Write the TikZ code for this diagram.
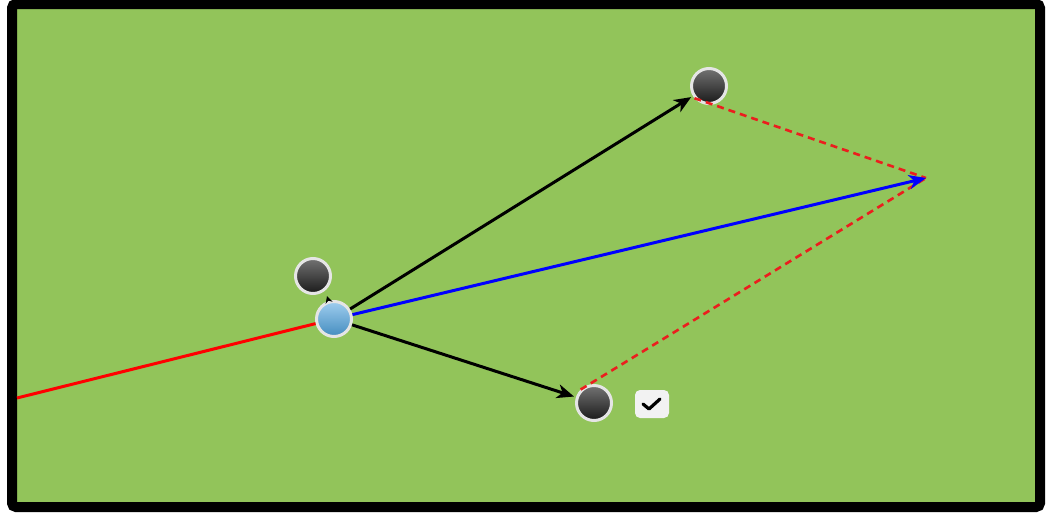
\documentclass[tikz,border=0pt]{standalone}
\usetikzlibrary{arrows.meta,calc}
\definecolor{field}{RGB}{146,196,90}
\definecolor{ballblue}{RGB}{80,165,225}
\definecolor{dashred}{RGB}{235,30,30}
\begin{document}
\begin{tikzpicture}[x=1pt,y=-1pt,
  darkball/.style={circle,minimum size=35pt,inner sep=0pt,draw=white!90!black,line width=3pt,
    top color=black!55,bottom color=black!90},
  blueball/.style={circle,minimum size=35pt,inner sep=0pt,draw=white!90!black,line width=3pt,
    top color=ballblue!55!white,bottom color=ballblue!85!black},
  vec/.style={line width=3pt,-{Stealth[length=17pt,width=14pt,inset=5pt]}},
  dashvec/.style={dashred,line width=2.6pt,dash pattern=on 7pt off 5pt},
  chk/.style={rounded corners=5pt,fill=white!95!black,minimum width=34pt,minimum height=28pt,inner sep=0pt}]
\useasboundingbox (0,0) rectangle (1048,514);
\draw[line width=10pt,fill=field,rounded corners=4pt] (12,4) rectangle (1040,507);
\coordinate (left) at (17,398);
\coordinate (apex) at (926,178);
\coordinate (sarrow) at (327,296);
\node[darkball] (s) at (313,276) {};
\node[darkball] (t) at (709,86) {};
\node[darkball] (d) at (594,403) {};
\node[blueball] (b) at (334,319) {};
\node[chk] (c) at (652,404) {};
\draw[line width=3.2pt,line cap=round,line join=round] ($(c)+(-9,0)$) -- ++(6,5) -- ++(11,-10);
\draw[red,line width=3pt] (left) -- (b);
\draw[dashvec] (t.-140) -- (apex);
\draw[dashvec] (d.135) -- (apex);
\draw[vec,shorten >=2pt] (b) -- (t);
\draw[vec,shorten >=2pt] (b) -- (d);
\draw[vec,blue] (b) -- (apex);
\draw[line width=2pt,-{Stealth[length=7pt,width=7pt]}] (b) -- (sarrow);
\end{tikzpicture}
\end{document}
